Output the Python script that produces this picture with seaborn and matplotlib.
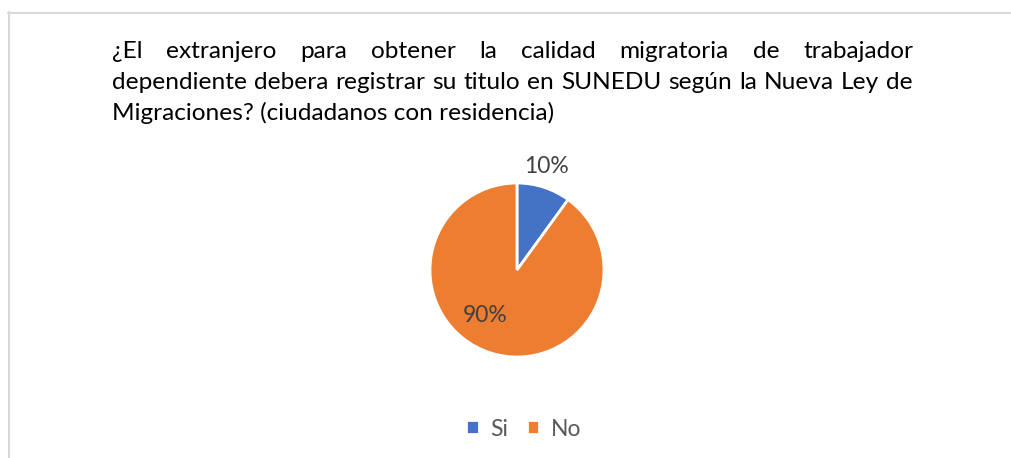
import matplotlib
matplotlib.use("Agg")
import matplotlib.pyplot as plt
import seaborn as sns
from matplotlib.lines import Line2D

# datos
categorias = ["Si", "No"]
valores = [10, 90]
colores = ["#4472C4", "#ED7D31"]
titulo_lineas = [
    "¿El extranjero para obtener la calidad migratoria de trabajador",
    "dependiente debera registrar su titulo en SUNEDU según la Nueva Ley de",
    "Migraciones? (ciudadanos con residencia)",
]

sns.set_theme(style="white")
plt.rcParams["font.family"] = ["Lato", "DejaVu Sans"]

W, H = 1011, 458
fig = plt.figure(figsize=(W / 100, H / 100), dpi=100)
fig.patch.set_facecolor("white")

# marco del gráfico (recortado)
fig.add_artist(Line2D([8 / W, 1], [1 - 12.5 / H] * 2, color="#D9D9D9", lw=1.5, transform=fig.transFigure))
fig.add_artist(Line2D([8.5 / W] * 2, [0, 1 - 12 / H], color="#D9D9D9", lw=1.5, transform=fig.transFigure))

# pie
cx, cy, rad = 517, 270, 87
ax = fig.add_axes([(cx - rad) / W, 1 - (cy + rad) / H, 2 * rad / W, 2 * rad / H])
wedges, textos, autotextos = ax.pie(
    valores, colors=colores, startangle=90, counterclock=False,
    autopct="%1.0f%%", wedgeprops=dict(edgecolor="white", linewidth=2),
    textprops=dict(color="#404040", fontsize=16.5),
)
ax.set_xlim(-1, 1)
ax.set_ylim(-1, 1)
ax.set_aspect("equal")
ax.axis("off")
autotextos[0].set_position((0.34, 1.19))
autotextos[1].set_position((-0.37, -0.52))

# leyenda
fig.legend(wedges, categorias, loc="center", bbox_to_anchor=(0.518, 1 - 429 / H), ncol=2,
           frameon=False, fontsize=16.5, labelcolor="#595959", handlelength=0.55, handleheight=0.55,
           handletextpad=0.5, columnspacing=0.8)

# titulo justificado
fs = 15
x0, x1 = 112, 913
bases = [58, 89, 120]
fig.canvas.draw()
r = fig.canvas.get_renderer()
prueba = fig.text(0, 0, titulo_lineas[1], fontsize=fs)
ancho = prueba.get_window_extent(r).width
prueba.remove()
fs = fs * (x1 - x0) * 0.99 / ancho

for i, linea in enumerate(titulo_lineas):
    yb = 1 - bases[i] / H
    if i == len(titulo_lineas) - 1:
        fig.text(x0 / W, yb, linea, fontsize=fs, color="#000000", va="baseline")
        continue
    palabras = linea.split(" ")
    objs = [fig.text(0, yb, p, fontsize=fs, color="#000000", va="baseline") for p in palabras]
    anchos = [o.get_window_extent(r).width for o in objs]
    hueco = ((x1 - x0) - sum(anchos)) / (len(palabras) - 1)
    x = x0
    for o, a in zip(objs, anchos):
        o.set_x(x / W)
        x += a + hueco

fig.savefig("out.png", dpi=100, facecolor="white")
